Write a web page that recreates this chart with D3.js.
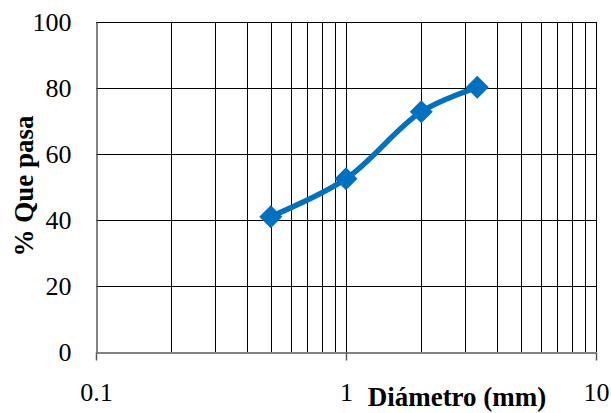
<!DOCTYPE html>
<html>
<head>
<meta charset="utf-8">
<script src="https://cdn.jsdelivr.net/npm/d3@7"></script>
<style>
html,body{margin:0;padding:0;background:#fff;}
svg{display:block;}
svg text{font-family:'Liberation Serif','Times New Roman',serif;}
</style>
</head>
<body>
<svg id="chart" width="611" height="413"></svg>
<script>
const diameters = [0.5, 1, 2, 3.35];
const percentPassing = [41, 52.5, 72.8, 80.2];
const xTickValues = [0.1, 1, 10];
const xTickLabels = ["0.1", "1", "10"];
const yTickValues = [0, 20, 40, 60, 80, 100];
const xTitle = "Diámetro (mm)";
const yTitle = "% Que pasa";

const svg = d3.select("#chart");
const m = {left: 96, right: 15, top: 22, bottom: 61};
const W = 611, H = 413;
const x = d3.scaleLog().domain([0.1, 10]).range([m.left, W - m.right]);
const y = d3.scaleLinear().domain([0, 100]).range([H - m.bottom, m.top]);

const font = "'Liberation Serif','Times New Roman',serif";

// vertical grid lines (log minor)
const xGrid = [];
[0.1, 1].forEach(d => { for (let k = 2; k <= 9; k++) xGrid.push(d * k); });
xGrid.push(1, 10);
svg.append("g").selectAll("line").data(xGrid).join("line")
  .attr("x1", d => Math.round(x(d)) + 0.5).attr("x2", d => Math.round(x(d)) + 0.5)
  .attr("y1", y(0)).attr("y2", y(100))
  .attr("stroke", "#000").attr("stroke-width", 1);

// horizontal grid lines
svg.append("g").selectAll("line").data(yTickValues.filter(d => d > 0)).join("line")
  .attr("x1", x(0.1)).attr("x2", x(10))
  .attr("y1", d => Math.round(y(d)) + 0.5).attr("y2", d => Math.round(y(d)) + 0.5)
  .attr("stroke", "#000").attr("stroke-width", 1);

// x axis
const xAxis = d3.axisBottom(x).tickValues(xTickValues)
  .tickFormat((d, i) => xTickLabels[i]).tickSizeInner(8).tickSizeOuter(0).tickPadding(22);
const gx = svg.append("g").attr("transform", `translate(0,${Math.round(y(0)) + 0.5})`).call(xAxis);
gx.attr("font-family", font).attr("font-size", 26);
gx.select(".domain").attr("stroke", "#595959").attr("stroke-width", 1.5);
gx.selectAll(".tick line").attr("stroke", "#595959").attr("stroke-width", 1.5);
gx.selectAll("text").style("font-family", font).style("font-size", "26px").attr("fill", "#000");

// y axis
const yAxis = d3.axisLeft(y).tickValues(yTickValues).tickSizeInner(0).tickSizeOuter(0).tickPadding(25);
const gy = svg.append("g").attr("transform", `translate(${Math.round(x(0.1)) + 0.5},0)`).call(yAxis);
gy.attr("font-family", font).attr("font-size", 26);
gy.select(".domain").attr("stroke", "#595959").attr("stroke-width", 1.5);
gy.selectAll("text").style("font-family", font).style("font-size", "26px").attr("fill", "#000");

// data line
const pts = diameters.map((d, i) => [d, percentPassing[i]]);
const line = d3.line().x(d => x(d[0])).y(d => y(d[1])).curve(d3.curveCatmullRom.alpha(0.5));
svg.append("path").datum(pts).attr("d", line)
  .attr("fill", "none").attr("stroke", "#0070C0").attr("stroke-width", 5.5)
  .attr("stroke-linejoin", "round").attr("stroke-linecap", "round");

const r = 11.5;
svg.append("g").selectAll("path").data(pts).join("path")
  .attr("transform", d => `translate(${x(d[0])},${y(d[1])})`)
  .attr("d", `M0,${-r}L${r},0L0,${r}L${-r},0Z`)
  .attr("fill", "#0070C0");

// titles
svg.append("text").attr("x", 457).attr("y", 406).attr("text-anchor", "middle")
  .style("font-family", font).style("font-size", "27px").attr("font-weight", "bold").text(xTitle);
svg.append("text").attr("transform", `translate(33,186) rotate(-90)`).attr("text-anchor", "middle")
  .style("font-family", font).style("font-size", "27px").attr("font-weight", "bold").text(yTitle);
</script>
</body>
</html>
